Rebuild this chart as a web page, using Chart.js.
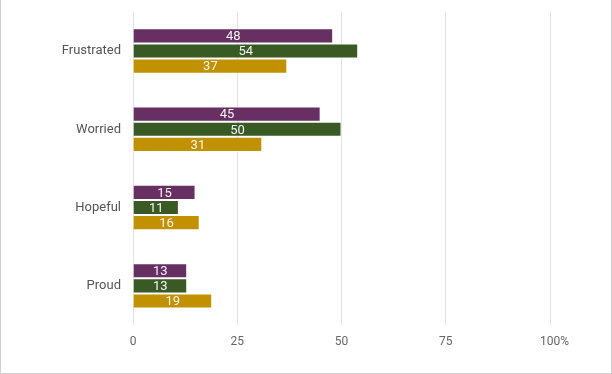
<!DOCTYPE html>
<html>
<head>
<meta charset="utf-8">
<script src="https://cdn.jsdelivr.net/npm/chart.js@4/dist/chart.umd.min.js"></script>
<style>
  html, body { margin: 0; padding: 0; background: #fff; }
  #wrap { width: 612px; height: 374px; position: relative; box-sizing: border-box; border: 1px solid #d0d0d0; border-top: none; }
  canvas { display: block; }
</style>
</head>
<body>
<div id="wrap"><canvas id="chart" width="610" height="373"></canvas></div>
<script>
const categories = ['Frustrated', 'Worried', 'Hopeful', 'Proud'];
const purpleVals = [48, 45, 15, 13];
const greenVals = [54, 50, 11, 13];
const goldVals = [37, 31, 16, 19];
const tickLabels = { 0: '0', 25: '25', 50: '50', 75: '75', 100: '   100%' };

// white value labels in the middle of each bar
const barLabels = {
    id: 'barLabels',
    afterDatasetsDraw(chart) {
        const ctx = chart.ctx;
        ctx.save();
        ctx.fillStyle = '#f4f4f4';
        ctx.font = '13px Roboto';
        ctx.textAlign = 'center';
        ctx.textBaseline = 'middle';
        chart.data.datasets.forEach((ds, i) => {
            chart.getDatasetMeta(i).data.forEach((bar, j) => {
                const p = bar.getProps(['x', 'y', 'base'], true);
                ctx.fillText(ds.data[j], (p.x + p.base) / 2, p.y + 1);
            });
        });
        ctx.restore();
    }
};

const ctx = document.getElementById('chart').getContext('2d');
new Chart(ctx, {
    type: 'bar',
    data: {
        labels: categories,
        datasets: [
            { data: purpleVals, backgroundColor: '#672f62' },
            { data: greenVals, backgroundColor: '#3a5a25' },
            { data: goldVals, backgroundColor: '#c29100' }
        ].map(d => Object.assign(d, {
            borderColor: 'rgba(255,255,255,0.6)',
            borderWidth: 1,
            categoryPercentage: 0.58,
            barPercentage: 1
        }))
    },
    options: {
        indexAxis: 'y',
        responsive: false,
        animation: false,
        layout: { padding: { top: 8, right: 61, left: 0, bottom: 0 } },
        plugins: { legend: { display: false }, tooltip: { enabled: false } },
        scales: {
            x: {
                min: 0,
                max: 100,
                ticks: {
                    stepSize: 25,
                    color: '#666666',
                    font: { family: 'Roboto', size: 12 },
                    padding: 10,
                    callback: v => tickLabels[v]
                },
                grid: { color: '#e3e3e3', tickLength: 0, drawTicks: false },
                border: { display: false },
                afterFit: s => { s.height = 48; }
            },
            y: {
                ticks: { color: '#555555', font: { family: 'Roboto', size: 13 }, padding: 4 },
                grid: { display: false },
                border: { display: false },
                afterFit: s => { s.width = 132; }
            }
        }
    },
    plugins: [barLabels]
});
</script>
</body>
</html>
